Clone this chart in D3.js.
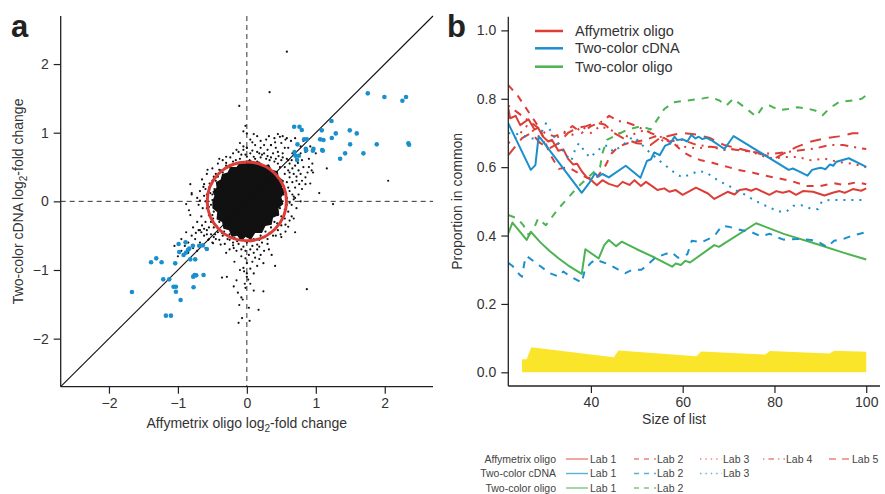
<!DOCTYPE html>
<html>
<head>
<meta charset="utf-8">
<script src="https://cdn.jsdelivr.net/npm/d3@7"></script>
<style>
  body { margin: 0; background: #fff; }
  svg { display: block; font-family: "Liberation Sans", Arial, sans-serif; }
  .tick text { fill: #333; }
</style>
</head>
<body>
<svg id="chart" width="885" height="494"></svg>
<script>
var width = 885, height = 494;

// ---- panel a data (log2 fold changes) ----
// dense centre of the cloud, traced as an outline
var coreOutline = [[-0.5,0.0],[-0.47,0.08],[-0.5,0.14],[-0.44,0.2],[-0.45,0.28],[-0.38,0.32],[-0.36,0.4],[-0.28,0.42],
  [-0.24,0.5],[-0.15,0.5],[-0.1,0.57],[-0.02,0.55],[0.04,0.62],[0.1,0.56],[0.18,0.58],[0.24,0.52],[0.32,0.54],[0.36,0.46],
  [0.45,0.44],[0.46,0.36],[0.54,0.3],[0.5,0.22],[0.56,0.14],[0.5,0.06],[0.53,-0.04],[0.46,-0.1],[0.47,-0.2],[0.38,-0.24],
  [0.36,-0.34],[0.27,-0.36],[0.22,-0.46],[0.12,-0.46],[0.06,-0.56],[-0.02,-0.52],[-0.08,-0.58],[-0.14,-0.5],[-0.22,-0.52],
  [-0.26,-0.42],[-0.34,-0.4],[-0.36,-0.3],[-0.44,-0.26],[-0.43,-0.16],[-0.5,-0.1]];

var blackPts = [[0.58,2.18],[0.33,1.59],[-0.11,1.39],[-0.02,1.1],[0.1,0.98],[0.0,0.99],[-0.05,0.8],[0.0,0.78],[0.48,0.94],[0.56,0.9],
  [0.41,0.86],[0.35,0.82],[2.05,0.3],[1.16,0.48],[0.94,0.45],[0.92,0.26],[1.05,0.12],[1.25,-0.04],[0.78,0.0],[0.68,0.07],
  [-0.82,0.25],[-0.8,0.12],[-0.88,-0.04],[-0.84,-0.13],[-0.68,0.01],[-0.57,0.46],[-0.63,0.21],[-0.68,-0.42],[-0.56,-0.56],
  [-0.49,-0.61],[-0.38,-0.63],[-0.19,-0.68],[0.0,-0.9],[-0.05,-0.97],[0.15,-0.94],[0.24,-0.9],[0.41,-0.94],[-0.29,-1.1],
  [-0.36,-1.11],[-0.19,-1.24],[-0.13,-1.33],[-0.11,-1.51],[-0.06,-1.43],[-0.02,-1.26],[0.0,-1.1],[0.02,-1.14],[0.1,-1.05],
  [0.24,-1.31],[0.17,-1.58],[-0.07,-1.7],[-0.12,-1.77],[0.04,-1.74],[0.87,-1.28],[0.49,-0.48],[0.56,-0.44],[0.6,-0.37],
  [0.65,-0.22],[0.68,0.03],
  [0.45,0.55],[0.5,0.6],[0.42,0.62],[0.55,0.5],[0.6,0.45],[0.62,0.55],[0.58,0.62],[0.65,0.6],[0.7,0.52],[0.68,0.4],
  [0.75,0.45],[0.72,0.62],[0.52,0.7],[0.45,0.72],[0.38,0.7],[0.3,0.75],[0.25,0.7],[0.2,0.78],[0.15,0.72],[0.35,0.82],
  [0.5,0.85],[0.55,0.78],[0.62,0.35],[0.66,0.28],[0.7,0.2],[0.62,0.15],[0.58,0.05],[0.65,-0.05],[0.6,-0.15],[0.55,-0.25],
  [0.5,-0.35],[0.45,-0.42],[0.38,-0.5],[0.3,-0.55],[0.22,-0.6],[0.15,-0.63],[0.08,-0.65],[-0.05,-0.66],[-0.12,-0.62],
  [-0.2,-0.6],[-0.28,-0.55],[-0.35,-0.5],[-0.42,-0.45],[-0.48,-0.38],[-0.52,-0.3],[-0.55,-0.2],[-0.58,-0.1],[-0.6,0.0],
  [-0.58,0.1],[-0.55,0.2],[-0.5,0.3],[-0.45,0.4],[-0.38,0.45],[-0.3,0.52],[-0.2,0.58],[-0.1,0.62],[0.0,0.65],[0.05,0.7],
  [-0.05,0.75],[0.1,0.65],
  [-0.5,0.1],[-0.48,-0.15],[-0.45,0.3],[-0.4,-0.3],[-0.35,0.42],[-0.25,-0.48],[-0.1,-0.55],[0.05,-0.58],[0.2,-0.5],
  [0.35,-0.38],[0.45,-0.2],[0.52,0.0],[0.5,0.22],[0.42,0.4],[0.3,0.5],[0.15,0.58],[-0.12,0.55],[-0.25,0.5],[-0.52,-0.05],
  [-0.47,0.18],[-0.5,0.02],[-0.49,-0.25],[-0.42,0.36],[-0.33,-0.44],[-0.18,-0.53],[0.1,-0.55],[0.27,-0.44],[0.4,-0.3],
  [0.48,-0.1],[0.53,0.1],
  [-0.65,-0.35],[-0.7,-0.42],[-0.62,-0.5],[-0.75,-0.55],[-0.8,-0.5],[-0.55,-0.55],[-0.5,-0.6],[-0.45,-0.55],[-0.68,-0.6],
  [-0.85,-0.6],[-0.9,-0.65],[-0.6,-0.68],[-0.72,-0.3],[-0.78,-0.38],[-0.82,-0.2],[-0.72,0.05],[-0.68,0.15],[-0.8,0.1],
  [-0.62,0.25],[-0.65,0.32],[-0.58,0.4],[-0.5,0.48],[-0.42,0.55],[-0.66,-0.45],[-0.58,-0.42],[-0.52,-0.48],
  [-0.02,-0.72],[0.03,-0.78],[-0.08,-0.8],[0.1,-0.75],[-0.15,-0.72],[0.15,-0.7],[0.2,-0.78],[0.25,-0.72],[-0.25,-0.7],
  [-0.3,-0.75],[0.08,-0.88],[0.12,-0.82],[-0.1,-1.0],[0.18,-0.84],[-0.18,-0.88],[0.0,-1.05],[0.05,-1.2],[-0.03,-1.2],
  [-0.15,-1.15],[0.1,-1.3],[-0.08,-1.4],[0.03,-1.55],[-0.02,-0.83],[0.05,-0.98],[-0.04,-1.02],[0.32,-0.7],[0.36,-0.78],
  [0.0,0.78],[-0.1,0.85],[0.05,0.9],[0.12,0.82],[-0.05,1.02],[0.08,0.86],[0.15,0.95],[0.2,0.88],[0.28,0.9],[0.32,0.95],
  [0.4,0.92],[0.45,0.98],[-0.15,0.75],[-0.2,0.7],[-0.3,0.65],[-0.35,0.6],[0.22,0.68],[0.28,0.62],[0.35,0.64],[0.42,0.78],
  [0.75,0.1],[0.8,0.3],[0.85,0.35],[0.9,0.5],[0.8,0.6],[0.85,0.72],[0.78,0.8],[0.95,0.55],[0.72,-0.1],[0.68,-0.25],
  [0.7,-0.45],[0.76,0.25],[0.72,0.36],[0.88,0.42],[0.66,0.7],[0.6,0.78],[0.64,0.88],
  [-0.53,0.12],[-0.55,-0.08],[-0.54,0.26],[-0.48,0.36],[-0.4,0.46],[-0.3,0.56],[-0.16,0.6],[-0.02,0.68],[0.12,0.62],
  [0.2,0.64],[0.33,0.6],[0.48,0.5],[0.55,0.4],[0.58,0.28],[0.6,0.2],[0.58,-0.05],[0.55,-0.12],[0.5,-0.22],[0.44,-0.32],
  [0.33,-0.46],[0.26,-0.52],[0.18,-0.56],[0.0,-0.6],[-0.14,-0.58],[-0.25,-0.56],[-0.36,-0.46],[-0.44,-0.36],[-0.5,-0.2],
  [-0.56,0.0],[-0.62,0.08],[-0.64,-0.1],[-0.66,-0.22],[-0.6,-0.3],[-0.55,-0.38],[-0.6,0.18],[-0.7,-0.05],[0.72,0.3],
  [0.78,0.4],[0.82,0.5],[0.74,0.56],[0.7,0.66],[0.66,0.48],[0.62,0.42],[0.6,0.6],[0.52,0.64],[0.46,0.66],[0.4,0.58],
  [0.3,0.66],[0.25,0.82],[0.18,0.7],[0.08,0.74],[-0.08,0.68],[-0.12,0.72],[-0.24,0.64],[-0.4,0.62],[0.62,-0.02],
  [0.66,0.1],[0.7,0.05],[0.62,-0.28],[0.56,-0.34],[0.42,-0.5],[0.5,-0.52],[0.3,-0.62],[0.18,-0.66],[0.05,-0.7],
  [-0.08,-0.7],[-0.2,-0.64],[-0.32,-0.62],[-0.4,-0.56],[-0.46,-0.48],[-0.58,-0.48],[-0.74,-0.46],[-0.62,-0.4],
  [-0.48,-0.52],[0.9,0.62],[1.0,0.7],[0.92,0.8],[0.78,0.7],[0.82,0.88],[0.7,0.92],[0.58,0.92],[0.52,0.95],[0.96,0.42],
  [0.85,0.25],[0.8,0.18],[-0.95,-0.72],[-1.0,-0.8],[-0.85,-0.75],[-0.78,-0.68],[-0.72,-0.72],[-0.88,-0.45],[-0.95,-0.55],
  [-1.05,-0.65]];

var bluePts = [[-1.667,-1.32],[-1.39,-0.888],[-1.314,-0.83],[-1.237,-0.888],[-1.213,-1.136],[-1.126,-1.136],[-1.174,-1.665],
  [-1.101,-1.665],[-1.063,-1.243],[-1.029,-1.243],[-1.029,-1.316],[-1.039,-0.903],[-0.99,-0.621],[-0.981,-0.738],
  [-0.961,-1.437],[-0.918,-0.782],[-0.889,-0.597],[-0.884,-0.748],[-0.855,-0.709],[-0.836,-0.689],[-0.821,-0.845],
  [-0.783,-0.646],[-0.778,-1.097],[-0.773,-1.252],[-0.758,-1.073],[-0.749,-0.845],[-0.734,-1.078],[-0.691,-0.646],
  [-0.638,-0.641],[-0.628,-1.073],[-0.58,-0.694],
  [0.686,1.087],[0.763,1.087],[0.797,1.039],[0.734,0.83],[0.691,0.718],[0.705,0.665],[0.754,0.665],[0.729,0.602],
  [0.831,0.903],[0.87,0.903],[0.855,0.767],[0.86,0.743],[0.966,0.767],[0.957,0.738],[1.087,1.034],[1.063,0.903],
  [1.111,0.893],[1.092,0.748],[1.101,0.738],[1.227,1.17],[1.232,0.922],[1.29,0.99],[1.353,0.621],[1.425,0.699],
  [1.493,1.034],[1.498,0.83],[1.594,0.99],[1.691,0.699],[1.754,1.573],[1.884,0.83],[1.995,1.519],[2.256,1.466],
  [2.309,1.519],[2.343,0.845],[2.353,0.825]];

var circleRadius = 0.575;
var ticksA = [-2, -1, 0, 1, 2];

// ---- panel b data: proportion in common vs size of list ----
var affyLab1 = [[22,0.772],[22.4,0.743],[23.6,0.75],[24.6,0.723],[26.4,0.74],[27.7,0.71],[28.5,0.715],[29.5,0.69],[30.7,0.675],
  [31.5,0.68],[32.9,0.648],[34,0.652],[35,0.625],[36.1,0.608],[37,0.61],[38,0.588],[39.1,0.57],[40.1,0.562],[41.3,0.547],
  [42.5,0.562],[43.9,0.551],[45.8,0.543],[46.9,0.557],[48.4,0.548],[49.5,0.562],[50.9,0.545],[52,0.557],[53.5,0.543],
  [54.5,0.533],[56,0.538],[57.1,0.528],[58.5,0.533],[60,0.519],[62.9,0.54],[65.5,0.523],[66.9,0.507],[69.8,0.528],
  [71.3,0.52],[72.4,0.533],[73.8,0.536],[74.9,0.531],[76,0.537],[78.9,0.519],[80.4,0.53],[81.8,0.525],[83.3,0.53],
  [84.7,0.519],[86.2,0.53],[88.4,0.528],[90.9,0.517],[92.7,0.525],[94.2,0.53],[95.3,0.525],[97.1,0.536],[98.9,0.531],[100,0.538]];
var affyLab2 = [[22,0.84],[24,0.81],[26.5,0.76],[29,0.71],[31,0.64],[33,0.595],[35,0.6],[37,0.585],[39,0.57],[41,0.565],
  [43,0.6],[44.5,0.64],[46,0.66],[48,0.67],[50,0.675],[52,0.68],[54,0.69],[56,0.685],[58,0.67],[60,0.645],[62,0.63],
  [64,0.62],[66,0.615],[68,0.607],[70,0.6],[72,0.592],[75,0.585],[78,0.575],[81,0.567],[84,0.558],[87,0.545],[90,0.545],
  [93,0.553],[95,0.548],[98,0.556],[100,0.55]];
var affyLab3 = [[22,0.67],[24,0.69],[26,0.72],[28,0.7],[30,0.67],[32,0.68],[34,0.7],[36,0.695],[38,0.72],[40,0.7],[42,0.72],
  [44,0.71],[46,0.7],[48,0.69],[50,0.7],[52,0.71],[54,0.69],[56,0.675],[58,0.665],[60,0.66],[63,0.655],[66,0.66],[69,0.65],
  [72,0.655],[75,0.645],[78,0.63],[80,0.625],[82,0.63],[85,0.63],[88,0.62],[91,0.625],[94,0.615],[97,0.61],[100,0.6]];
var affyLab4 = [[22,0.78],[25,0.75],[28,0.72],[30,0.7],[32,0.69],[34,0.7],[36,0.72],[38,0.7],[40,0.72],[42,0.73],[44,0.75],
  [46,0.735],[48,0.73],[50,0.72],[53,0.7],[55,0.69],[57,0.675],[60,0.68],[63,0.665],[66,0.66],[69,0.655],[72,0.65],
  [75,0.645],[78,0.64],[80,0.64],[83,0.645],[86,0.65],[89,0.655],[92,0.665],[95,0.665],[98,0.657],[100,0.653]];
var affyLab5 = [[22,0.635],[25,0.685],[27,0.7],[29,0.67],[31,0.655],[33,0.67],[35,0.7],[37,0.715],[39,0.72],[41,0.73],
  [43,0.725],[45,0.7],[47,0.685],[50,0.67],[53,0.665],[55,0.685],[58,0.695],[60,0.7],[63,0.695],[66,0.685],[69,0.665],
  [72,0.655],[75,0.645],[78,0.635],[80,0.625],[82,0.64],[85,0.66],[88,0.675],[91,0.684],[94,0.69],[97,0.699],[100,0.7]];
var cdnaLab1 = [[22,0.728],[26.9,0.592],[27.9,0.606],[28.6,0.689],[29,0.685],[38,0.525],[39.6,0.553],[40.9,0.582],
  [41.6,0.572],[42.5,0.58],[43.9,0.57],[47.6,0.604],[50.8,0.569],[52.2,0.618],[53.1,0.623],[53.8,0.643],[55,0.635],
  [56.2,0.663],[57.3,0.669],[58.2,0.689],[58.8,0.679],[59.9,0.682],[61,0.675],[61.9,0.694],[62.8,0.684],[63.5,0.689],
  [64.3,0.682],[65.2,0.686],[66.5,0.677],[69.1,0.653],[71.1,0.691],[83.1,0.592],[84,0.596],[85,0.59],[87.2,0.575],
  [88.2,0.592],[89.3,0.596],[90.2,0.598],[91.1,0.594],[92.1,0.608],[92.8,0.604],[93.5,0.616],[96.2,0.626],[100,0.601]];
var cdnaLab2 = [[22,0.32],[23,0.31],[24.5,0.285],[25,0.28],[25.5,0.32],[26,0.34],[27,0.33],[29,0.31],[31,0.29],[33,0.28],
  [34,0.295],[35,0.285],[38,0.262],[38.7,0.3],[40,0.32],[41,0.33],[42,0.325],[44,0.315],[46,0.3],[47.5,0.29],[49,0.3],
  [51,0.3],[52,0.31],[54,0.335],[56,0.345],[57.5,0.352],[59,0.335],[61,0.345],[62,0.385],[64,0.38],[66,0.392],[67,0.4],
  [68.5,0.428],[70,0.426],[72,0.418],[75,0.41],[77,0.398],[79,0.405],[80,0.398],[82,0.388],[85,0.39],[88,0.387],
  [90,0.378],[91.5,0.366],[93,0.385],[95,0.39],[97,0.4],[100,0.41]];
var cdnaLab3 = [[22,0.7],[24.2,0.696],[26.7,0.686],[28.5,0.679],[29.6,0.713],[30.2,0.728],[33.3,0.66],[34.5,0.637],
  [35.7,0.618],[36.7,0.657],[37.4,0.67],[38.6,0.647],[39.8,0.628],[42.6,0.662],[43.7,0.663],[44.9,0.645],[46.4,0.66],
  [47.4,0.67],[49.2,0.689],[50.5,0.675],[52,0.653],[55,0.618],[56.6,0.601],[58.2,0.584],[59.9,0.57],[61.7,0.579],
  [63.5,0.589],[65.2,0.584],[66.8,0.569],[68.6,0.555],[70.4,0.543],[71.9,0.53],[73.5,0.52],[75.5,0.504],[77.3,0.492],
  [79.1,0.481],[81,0.47],[82.6,0.47],[84.1,0.487],[85.8,0.489],[87.7,0.48],[89.5,0.477],[90.3,0.499],[91.9,0.504],[100,0.504]];
var oligoLab1 = [[22,0.406],[22.9,0.438],[26,0.387],[26.9,0.411],[29,0.38],[31,0.355],[33,0.333],[35,0.313],[38,0.288],
  [38.8,0.36],[41.7,0.333],[42.9,0.372],[43.9,0.387],[45.5,0.369],[46.7,0.382],[50,0.36],[54,0.335],[57.7,0.309],
  [58.5,0.318],[59.6,0.314],[60.6,0.326],[61.6,0.321],[66.9,0.372],[67.9,0.367],[76,0.436],[82,0.405],[89,0.376],
  [95,0.35],[100,0.33]];
var oligoLab2 = [[22,0.46],[24,0.45],[25.3,0.43],[26.5,0.4],[27.7,0.425],[28.5,0.45],[30.2,0.43],[31,0.445],[33,0.48],
  [35,0.51],[37,0.54],[39,0.565],[41,0.59],[42,0.6],[42.5,0.64],[43.5,0.68],[45,0.69],[48,0.71],[51,0.72],[53,0.71],
  [54,0.73],[56,0.77],[58,0.79],[61,0.795],[64,0.8],[66,0.805],[68,0.795],[69.5,0.78],[71,0.8],[72.5,0.785],[74,0.77],
  [76,0.748],[77.5,0.777],[79,0.78],[81,0.767],[83,0.77],[85,0.775],[87,0.772],[89,0.765],[90.5,0.752],[92,0.772],
  [94,0.79],[97,0.795],[99,0.8],[100,0.81]];
// overlap expected by chance (yellow band)
var chanceSize = [25, 26, 27, 45, 46, 63, 64, 78, 79, 92, 93, 100];
var chanceValue = [0.038, 0.038, 0.073, 0.044, 0.064, 0.047, 0.061, 0.052, 0.062, 0.055, 0.063, 0.06];

var platforms = ["Affymetrix oligo", "Two-color cDNA", "Two-color oligo"];
var labNames = ["Lab 1", "Lab 2", "Lab 3", "Lab 4", "Lab 5"];
var ticksBx = [40, 60, 80, 100];
var ticksBy = [0, 0.2, 0.4, 0.6, 0.8, 1.0];

var red = "#dc3d37", blue = "#1a8fcd", green = "#4bb351", yellow = "#fbe52b";
var dashes = ["none", "7,7", "2,6", "2,6,8,6", "11,8"];
var legendDashes = ["none", "5,5", "1.4,4", "1.4,4,5.6,4", "7,6"];

var series = [
  {p: 0, lab: 0, data: affyLab1}, {p: 0, lab: 1, data: affyLab2}, {p: 0, lab: 2, data: affyLab3},
  {p: 0, lab: 3, data: affyLab4}, {p: 0, lab: 4, data: affyLab5},
  {p: 2, lab: 0, data: oligoLab1}, {p: 2, lab: 1, data: oligoLab2},
  {p: 1, lab: 0, data: cdnaLab1}, {p: 1, lab: 1, data: cdnaLab2}, {p: 1, lab: 2, data: cdnaLab3}
];
var platColor = [red, blue, green];

var svg = d3.select("#chart");

// ================= panel a =================
var xa = d3.scaleLinear().domain([-2.7, 2.7]).range([60.7, 433]);
var ya = d3.scaleLinear().domain([-2.7, 2.7]).range([386.7, 16]);

var ga = svg.append("g");

ga.append("line")
  .attr("x1", xa(0)).attr("x2", xa(0)).attr("y1", ya(2.7)).attr("y2", ya(-2.7))
  .attr("stroke", "#333").attr("stroke-width", 1).attr("stroke-dasharray", "5,4");
ga.append("line")
  .attr("x1", xa(-2.7)).attr("x2", xa(2.7)).attr("y1", ya(0)).attr("y2", ya(0))
  .attr("stroke", "#333").attr("stroke-width", 1).attr("stroke-dasharray", "5,4");

ga.append("path")
  .datum(coreOutline)
  .attr("d", d3.line().x(function (d) { return xa(d[0]); }).y(function (d) { return ya(d[1]); }).curve(d3.curveLinearClosed))
  .attr("fill", "#111");

ga.selectAll(".dot")
  .data(blackPts)
  .enter().append("circle")
  .attr("class", "dot")
  .attr("cx", function (d) { return xa(d[0]); })
  .attr("cy", function (d) { return ya(d[1]); })
  .attr("r", 1.1)
  .attr("fill", "#111");

ga.append("line")
  .attr("x1", xa(-2.7)).attr("y1", ya(-2.7)).attr("x2", xa(2.7)).attr("y2", ya(2.7))
  .attr("stroke", "#111").attr("stroke-width", 1.1);

ga.selectAll(".bdot")
  .data(bluePts)
  .enter().append("circle")
  .attr("class", "bdot")
  .attr("cx", function (d) { return xa(d[0]); })
  .attr("cy", function (d) { return ya(d[1]); })
  .attr("r", 2.3)
  .attr("fill", blue);

ga.append("ellipse")
  .attr("cx", xa(0)).attr("cy", ya(0))
  .attr("rx", xa(circleRadius) - xa(0)).attr("ry", ya(0) - ya(circleRadius))
  .attr("fill", "none").attr("stroke", red).attr("stroke-width", 3);

var xAxisA = d3.axisBottom(xa).tickValues(ticksA).tickSize(7).tickPadding(4)
  .tickFormat(function (d) { return d < 0 ? "\u2212" + Math.abs(d) : d; });
var yAxisA = d3.axisLeft(ya).tickValues(ticksA).tickSize(7).tickPadding(5)
  .tickFormat(function (d) { return d < 0 ? "\u2212" + Math.abs(d) : d; });

ga.append("g").attr("transform", "translate(0," + ya(-2.7) + ")").call(xAxisA)
  .call(function (g) { g.select(".domain").attr("d", "M" + xa(-2.7) + ",0H" + xa(2.7)); });
ga.append("g").attr("transform", "translate(" + xa(-2.7) + ",0)").call(yAxisA)
  .call(function (g) { g.select(".domain").attr("d", "M0," + ya(-2.7) + "V" + ya(2.7)); });

var xtA = ga.append("text").attr("x", xa(0)).attr("y", 428).attr("text-anchor", "middle")
  .attr("font-size", 14).attr("fill", "#333");
xtA.append("tspan").text("Affymetrix oligo log");
xtA.append("tspan").attr("font-size", 10).attr("dy", 4).text("2");
xtA.append("tspan").attr("dy", -4).text("-fold change");

var ytA = ga.append("text").attr("transform", "translate(23," + ya(0) + ") rotate(-90)")
  .attr("text-anchor", "middle").attr("font-size", 14).attr("fill", "#333");
ytA.append("tspan").text("Two-color cDNA log");
ytA.append("tspan").attr("font-size", 10).attr("dy", 4).text("2");
ytA.append("tspan").attr("dy", -4).text("-fold change");

svg.append("text").attr("x", 11).attr("y", 37).attr("font-size", 31).attr("font-weight", "bold")
  .attr("fill", "#222").text("a");

// ================= panel b =================
var xb = d3.scaleLinear().domain([22, 103]).range([508.3, 880]);
var yb = d3.scaleLinear().domain([-0.04, 1.04]).range([386, 16.7]);

var gb = svg.append("g");
gb.append("clipPath").attr("id", "clipb").append("rect")
  .attr("x", xb(22)).attr("y", yb(1.04)).attr("width", xb(103) - xb(22)).attr("height", yb(-0.04) - yb(1.04));

gb.append("path")
  .datum(chanceSize)
  .attr("d", d3.area()
    .x(function (d) { return xb(d); })
    .y0(yb(0))
    .y1(function (d, i) { return yb(chanceValue[i]); }))
  .attr("fill", yellow);

var line = d3.line().x(function (d) { return xb(d[0]); }).y(function (d) { return yb(d[1]); });

gb.append("g").attr("clip-path", "url(#clipb)")
  .selectAll(".series")
  .data(series)
  .enter().append("path")
  .attr("class", "series")
  .attr("d", function (d) { return line(d.data); })
  .attr("fill", "none")
  .attr("stroke", function (d) { return platColor[d.p]; })
  .attr("stroke-width", 2)
  .attr("stroke-linejoin", "round")
  .attr("stroke-dasharray", function (d) { return dashes[d.lab]; });

var xAxisB = d3.axisBottom(xb).tickValues(ticksBx).tickSize(7).tickPadding(4);
var yAxisB = d3.axisLeft(yb).tickValues(ticksBy).tickSize(7).tickPadding(5).tickFormat(d3.format(".1f"));

gb.append("g").attr("transform", "translate(0," + yb(-0.04) + ")").call(xAxisB)
  .call(function (g) { g.select(".domain").attr("d", "M" + xb(22) + ",0H" + xb(103)); });
gb.append("g").attr("transform", "translate(" + xb(22) + ",0)").call(yAxisB)
  .call(function (g) { g.select(".domain").attr("d", "M0," + yb(-0.04) + "V" + yb(1.04)); });

gb.append("text").attr("x", 674).attr("y", 424).attr("text-anchor", "middle")
  .attr("font-size", 14).attr("fill", "#333").text("Size of list");
gb.append("text").attr("transform", "translate(462," + yb(0.5) + ") rotate(-90)")
  .attr("text-anchor", "middle").attr("font-size", 14).attr("fill", "#333").text("Proportion in common");

svg.append("text").attr("x", 447).attr("y", 37).attr("font-size", 31).attr("font-weight", "bold")
  .attr("fill", "#222").text("b");

// top legend (platforms)
var legTop = gb.selectAll(".legtop")
  .data(platforms)
  .enter().append("g")
  .attr("class", "legtop")
  .attr("transform", function (d, i) { return "translate(535," + [31, 48.3, 66.7][i] + ")"; });
legTop.append("line").attr("x1", 0).attr("x2", 28).attr("y1", 0).attr("y2", 0)
  .attr("stroke", function (d, i) { return platColor[i]; }).attr("stroke-width", 2.5);
legTop.append("text").attr("x", 40).attr("y", 5).attr("font-size", 14.5).attr("fill", "#333")
  .text(function (d) { return d; });

// bottom legend (labs per platform)
var labCount = [5, 3, 2];
var colX = [566, 634, 700, 763, 829];
var rowY = [459, 473.5, 488];
var fade = ["#e8847f", "#5aaedb", "#7fc683"];

platforms.forEach(function (p, r) {
  var row = svg.append("g").attr("transform", "translate(0," + rowY[r] + ")");
  row.append("text").attr("x", 556).attr("y", 3.7).attr("text-anchor", "end")
    .attr("font-size", 10.5).attr("fill", "#444").text(p);
  d3.range(labCount[r]).forEach(function (k) {
    row.append("line").attr("x1", colX[k]).attr("x2", colX[k] + 22).attr("y1", 0).attr("y2", 0)
      .attr("stroke", fade[r]).attr("stroke-width", 1.4).attr("stroke-dasharray", legendDashes[k]);
    row.append("text").attr("x", colX[k] + (k === 0 ? 24 : 23)).attr("y", 3.7)
      .attr("font-size", 10.5).attr("fill", "#444").text(labNames[k]);
  });
});

svg.selectAll(".tick text").attr("font-size", 14).attr("font-family", "Liberation Sans, Arial, sans-serif");
svg.selectAll(".domain").attr("stroke", "#222").attr("stroke-width", 1.3);
svg.selectAll(".tick line").attr("stroke", "#222").attr("stroke-width", 1.2);
</script>
</body>
</html>
